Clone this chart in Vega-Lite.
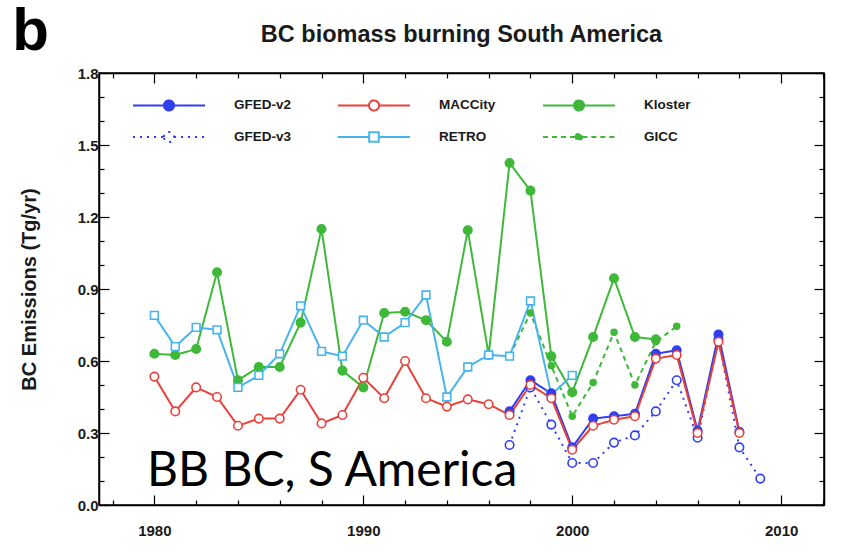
{
  "$schema": "https://vega.github.io/schema/vega-lite/v6.json",
  "width": 725,
  "height": 432,
  "autosize": "none",
  "padding": {"left": 99, "top": 73, "right": 22, "bottom": 53},
  "background": "white",
  "title": {"text": "BC biomass burning South America", "fontSize": 23.5, "font": "Liberation Sans", "fontWeight": "bold", "anchor": "middle", "baseline": "alphabetic", "offset": -63, "color": "#1a1a1a"},
  "config": {"view": {"stroke": "black", "strokeWidth": 1.5}, "font": "Liberation Sans"},
  "datasets": {
    "main": [
      {"source": "Kloster", "year": 1980, "value": 0.63},
      {"source": "Kloster", "year": 1981, "value": 0.625},
      {"source": "Kloster", "year": 1982, "value": 0.65},
      {"source": "Kloster", "year": 1983, "value": 0.97},
      {"source": "Kloster", "year": 1984, "value": 0.52},
      {"source": "Kloster", "year": 1985, "value": 0.575},
      {"source": "Kloster", "year": 1986, "value": 0.575},
      {"source": "Kloster", "year": 1987, "value": 0.76},
      {"source": "Kloster", "year": 1988, "value": 1.15},
      {"source": "Kloster", "year": 1989, "value": 0.56},
      {"source": "Kloster", "year": 1990, "value": 0.49},
      {"source": "Kloster", "year": 1991, "value": 0.8},
      {"source": "Kloster", "year": 1992, "value": 0.805},
      {"source": "Kloster", "year": 1993, "value": 0.77},
      {"source": "Kloster", "year": 1994, "value": 0.68},
      {"source": "Kloster", "year": 1995, "value": 1.145},
      {"source": "Kloster", "year": 1996, "value": 0.625},
      {"source": "Kloster", "year": 1997, "value": 1.425},
      {"source": "Kloster", "year": 1998, "value": 1.31},
      {"source": "Kloster", "year": 1999, "value": 0.62},
      {"source": "Kloster", "year": 2000, "value": 0.47},
      {"source": "Kloster", "year": 2001, "value": 0.7},
      {"source": "Kloster", "year": 2002, "value": 0.945},
      {"source": "Kloster", "year": 2003, "value": 0.7},
      {"source": "Kloster", "year": 2004, "value": 0.69},
      {"source": "GICC", "year": 1997, "value": 0.62},
      {"source": "GICC", "year": 1998, "value": 0.8},
      {"source": "GICC", "year": 1999, "value": 0.58},
      {"source": "GICC", "year": 2000, "value": 0.37},
      {"source": "GICC", "year": 2001, "value": 0.51},
      {"source": "GICC", "year": 2002, "value": 0.72},
      {"source": "GICC", "year": 2003, "value": 0.5},
      {"source": "GICC", "year": 2004, "value": 0.68},
      {"source": "GICC", "year": 2005, "value": 0.745},
      {"source": "RETRO", "year": 1980, "value": 0.79},
      {"source": "RETRO", "year": 1981, "value": 0.66},
      {"source": "RETRO", "year": 1982, "value": 0.74},
      {"source": "RETRO", "year": 1983, "value": 0.73},
      {"source": "RETRO", "year": 1984, "value": 0.49},
      {"source": "RETRO", "year": 1985, "value": 0.54},
      {"source": "RETRO", "year": 1986, "value": 0.63},
      {"source": "RETRO", "year": 1987, "value": 0.83},
      {"source": "RETRO", "year": 1988, "value": 0.64},
      {"source": "RETRO", "year": 1989, "value": 0.62},
      {"source": "RETRO", "year": 1990, "value": 0.77},
      {"source": "RETRO", "year": 1991, "value": 0.7},
      {"source": "RETRO", "year": 1992, "value": 0.76},
      {"source": "RETRO", "year": 1993, "value": 0.875},
      {"source": "RETRO", "year": 1994, "value": 0.45},
      {"source": "RETRO", "year": 1995, "value": 0.575},
      {"source": "RETRO", "year": 1996, "value": 0.625},
      {"source": "RETRO", "year": 1997, "value": 0.62},
      {"source": "RETRO", "year": 1998, "value": 0.85},
      {"source": "RETRO", "year": 1999, "value": 0.46},
      {"source": "RETRO", "year": 2000, "value": 0.54},
      {"source": "GFED-v3", "year": 1997, "value": 0.25},
      {"source": "GFED-v3", "year": 1998, "value": 0.49},
      {"source": "GFED-v3", "year": 1999, "value": 0.335},
      {"source": "GFED-v3", "year": 2000, "value": 0.175},
      {"source": "GFED-v3", "year": 2001, "value": 0.175},
      {"source": "GFED-v3", "year": 2002, "value": 0.26},
      {"source": "GFED-v3", "year": 2003, "value": 0.29},
      {"source": "GFED-v3", "year": 2004, "value": 0.39},
      {"source": "GFED-v3", "year": 2005, "value": 0.52},
      {"source": "GFED-v3", "year": 2006, "value": 0.28},
      {"source": "GFED-v3", "year": 2007, "value": 0.69},
      {"source": "GFED-v3", "year": 2008, "value": 0.24},
      {"source": "GFED-v3", "year": 2009, "value": 0.11},
      {"source": "GFED-v2", "year": 1997, "value": 0.39},
      {"source": "GFED-v2", "year": 1998, "value": 0.52},
      {"source": "GFED-v2", "year": 1999, "value": 0.465},
      {"source": "GFED-v2", "year": 2000, "value": 0.24},
      {"source": "GFED-v2", "year": 2001, "value": 0.36},
      {"source": "GFED-v2", "year": 2002, "value": 0.37},
      {"source": "GFED-v2", "year": 2003, "value": 0.38},
      {"source": "GFED-v2", "year": 2004, "value": 0.63},
      {"source": "GFED-v2", "year": 2005, "value": 0.645},
      {"source": "GFED-v2", "year": 2006, "value": 0.31},
      {"source": "GFED-v2", "year": 2007, "value": 0.71},
      {"source": "GFED-v2", "year": 2008, "value": 0.305},
      {"source": "MACCity", "year": 1980, "value": 0.535},
      {"source": "MACCity", "year": 1981, "value": 0.39},
      {"source": "MACCity", "year": 1982, "value": 0.49},
      {"source": "MACCity", "year": 1983, "value": 0.45},
      {"source": "MACCity", "year": 1984, "value": 0.33},
      {"source": "MACCity", "year": 1985, "value": 0.36},
      {"source": "MACCity", "year": 1986, "value": 0.36},
      {"source": "MACCity", "year": 1987, "value": 0.48},
      {"source": "MACCity", "year": 1988, "value": 0.34},
      {"source": "MACCity", "year": 1989, "value": 0.375},
      {"source": "MACCity", "year": 1990, "value": 0.53},
      {"source": "MACCity", "year": 1991, "value": 0.445},
      {"source": "MACCity", "year": 1992, "value": 0.6},
      {"source": "MACCity", "year": 1993, "value": 0.445},
      {"source": "MACCity", "year": 1994, "value": 0.41},
      {"source": "MACCity", "year": 1995, "value": 0.44},
      {"source": "MACCity", "year": 1996, "value": 0.42},
      {"source": "MACCity", "year": 1997, "value": 0.375},
      {"source": "MACCity", "year": 1998, "value": 0.5},
      {"source": "MACCity", "year": 1999, "value": 0.445},
      {"source": "MACCity", "year": 2000, "value": 0.23},
      {"source": "MACCity", "year": 2001, "value": 0.33},
      {"source": "MACCity", "year": 2002, "value": 0.355},
      {"source": "MACCity", "year": 2003, "value": 0.37},
      {"source": "MACCity", "year": 2004, "value": 0.61},
      {"source": "MACCity", "year": 2005, "value": 0.625},
      {"source": "MACCity", "year": 2006, "value": 0.3},
      {"source": "MACCity", "year": 2007, "value": 0.68},
      {"source": "MACCity", "year": 2008, "value": 0.3}
    ],
    "note": [{"year": 1979.65, "value": 0.079, "label": "BB BC, S America"}],
    "panel": [{"year": 1973.2, "value": 1.895, "label": "b"}]
  },
  "layer": [
    {
      "data": {"name": "main"},
      "mark": {"type": "line", "strokeWidth": 2},
      "encoding": {
        "x": {"field": "year", "type": "quantitative", "scale": {"domain": [1977.35, 2012.05], "nice": false, "zero": false},
          "axis": {"orient": "bottom", "values": [1978,1980,1982,1984,1986,1988,1990,1992,1994,1996,1998,2000,2002,2004,2006,2008,2010,2012], "format": "d",
            "labelExpr": "datum.value % 10 === 0 ? datum.label : ''",
            "tickSize": {"condition": {"test": "datum.value % 10 === 0", "value": -10}, "value": -5},
            "tickColor": "black", "tickWidth": 1.2, "domainColor": "black", "domainWidth": 1.5, "grid": false, "title": null,
            "labelFont": "Liberation Sans", "labelFontWeight": "bold", "labelFontSize": 15, "labelColor": "#1a1a1a", "labelPadding": 28, "labelOverlap": false, "labelFlush": false}},
        "y": {"field": "value", "type": "quantitative", "scale": {"domain": [0, 1.8], "nice": false, "zero": true},
          "axis": {"orient": "left", "values": [0,0.1,0.2,0.3,0.4,0.5,0.6,0.7,0.8,0.9,1.0,1.1,1.2,1.3,1.4,1.5,1.6,1.7,1.8], "format": ".1f",
            "labelExpr": "round(datum.value*10) % 3 === 0 ? datum.label : ''",
            "tickSize": {"condition": {"test": "round(datum.value*10) % 3 === 0", "value": -10}, "value": -5},
            "tickColor": "black", "tickWidth": 1.2, "domainColor": "black", "domainWidth": 1.5, "grid": false,
            "title": "BC Emissions (Tg/yr)", "titleFont": "Liberation Sans", "titleFontWeight": "bold", "titleFontSize": 20, "titleColor": "#1a1a1a", "titlePadding": 38,
            "labelFont": "Liberation Sans", "labelFontWeight": "bold", "labelFontSize": 15, "labelColor": "#1a1a1a", "labelPadding": 11, "labelOverlap": false, "labelFlush": false}},
        "color": {"field": "source", "type": "nominal",
          "scale": {"domain": ["GFED-v2", "GFED-v3", "MACCity", "RETRO", "Kloster", "GICC"], "range": ["#2f3ff0", "#2f3ff0", "#e8413a", "#47b5ec", "#3fb83a", "#3fb83a"]},
          "legend": {"title": null, "orient": "none", "legendX": 57, "legendY": 19, "columns": 3, "gridAlign": "all",
            "symbolSize": 576, "symbolStrokeWidth": 2, "labelFont": "Liberation Sans", "labelFontWeight": "bold", "labelFontSize": 13.5, "labelColor": "#1a1a1a",
            "labelOffset": 52, "columnPadding": 42, "rowPadding": 9,
            "encode": {"symbols": {"update": {
              "shape": {"signal": "datum.value === 'RETRO' ? 'M-3,0L-0.4,0M0.4,0L3,0M-0.4,-0.4L0.4,-0.4L0.4,0.4L-0.4,0.4Z' : (datum.value === 'GICC' ? 'M-3,0L-0.28,0M0.28,0L3,0M-0.28,0A0.28,0.28,0,1,1,0.28,0A0.28,0.28,0,1,1,-0.28,0Z' : 'M-3,0L-0.42,0M0.42,0L3,0M-0.42,0A0.42,0.42,0,1,1,0.42,0A0.42,0.42,0,1,1,-0.42,0Z')"},
              "fill": {"signal": "datum.value === 'GFED-v2' ? '#2f3ff0' : ((datum.value === 'Kloster' || datum.value === 'GICC') ? '#3fb83a' : 'white')"},
              "strokeDash": {"signal": "datum.value === 'GFED-v3' ? [2,4] : (datum.value === 'GICC' ? [5,3] : [])"},
              "opacity": {"value": 1}
            }}}}},
        "strokeDash": {"field": "source", "type": "nominal",
          "scale": {"domain": ["GFED-v2", "GFED-v3", "MACCity", "RETRO", "Kloster", "GICC"], "range": [[1,0],[2,5],[1,0],[1,0],[1,0],[5,4]]},
          "legend": null}
      }
    },
    {
      "data": {"name": "main"},
      "mark": {"type": "point", "filled": true, "strokeWidth": 1.6, "opacity": 1},
      "encoding": {
        "x": {"field": "year", "type": "quantitative",
          "axis": {"orient": "top", "values": [1978,1980,1982,1984,1986,1988,1990,1992,1994,1996,1998,2000,2002,2004,2006,2008,2010,2012],
            "labels": false, "tickSize": {"condition": {"test": "datum.value % 10 === 0", "value": -10}, "value": -5},
            "tickColor": "black", "tickWidth": 1.2, "domainColor": "black", "domainWidth": 1.5, "grid": false, "title": null}},
        "y": {"field": "value", "type": "quantitative",
          "axis": {"orient": "right", "values": [0,0.1,0.2,0.3,0.4,0.5,0.6,0.7,0.8,0.9,1.0,1.1,1.2,1.3,1.4,1.5,1.6,1.7,1.8],
            "labels": false, "tickSize": {"condition": {"test": "round(datum.value*10) % 3 === 0", "value": -10}, "value": -5},
            "tickColor": "black", "tickWidth": 1.2, "domainColor": "black", "domainWidth": 1.5, "grid": false, "title": null}},
        "shape": {"condition": {"test": "datum.source === 'RETRO'", "value": "square"}, "value": "circle"},
        "fill": {"condition": [{"test": "datum.source === 'GFED-v2'", "value": "#2f3ff0"}, {"test": "datum.source === 'Kloster' || datum.source === 'GICC'", "value": "#3fb83a"}], "value": "white"},
        "stroke": {"condition": [{"test": "datum.source === 'GFED-v2' || datum.source === 'GFED-v3'", "value": "#2f3ff0"}, {"test": "datum.source === 'Kloster' || datum.source === 'GICC'", "value": "#3fb83a"}, {"test": "datum.source === 'RETRO'", "value": "#47b5ec"}], "value": "#e8413a"},
        "size": {"condition": [{"test": "datum.source === 'GICC'", "value": 35}, {"test": "datum.source === 'RETRO'", "value": 60}], "value": 72}
      }
    },
    {
      "data": {"name": "note"},
      "mark": {"type": "text", "font": "Lato", "fontSize": 48, "align": "left", "baseline": "alphabetic", "color": "black"},
      "encoding": {
        "x": {"field": "year", "type": "quantitative", "axis": null},
        "y": {"field": "value", "type": "quantitative", "axis": null},
        "text": {"field": "label"}
      }
    },
    {
      "data": {"name": "panel"},
      "mark": {"type": "text", "font": "Liberation Sans", "fontWeight": "bold", "fontSize": 60, "align": "left", "baseline": "alphabetic", "color": "black"},
      "encoding": {
        "x": {"field": "year", "type": "quantitative", "axis": null},
        "y": {"field": "value", "type": "quantitative", "axis": null},
        "text": {"field": "label"}
      }
    }
  ],
  "resolve": {"axis": {"x": "independent", "y": "independent"}}
}
